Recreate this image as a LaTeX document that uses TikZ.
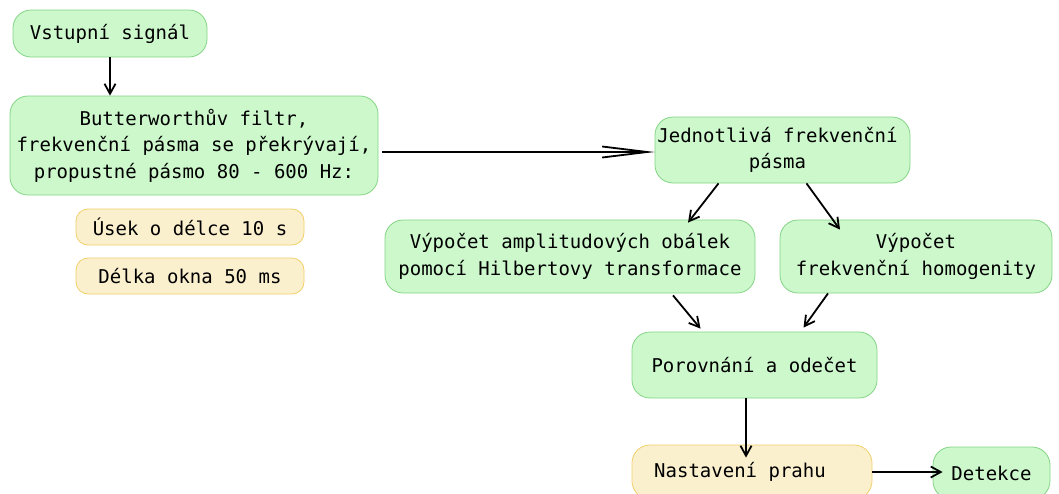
\documentclass[tikz,border=0pt]{standalone}
\usepackage{fontspec}
\setmonofont{DejaVu Sans Mono}
\usetikzlibrary{arrows.meta}
\definecolor{gfill}{HTML}{CCF8CC}
\definecolor{gline}{HTML}{84D484}
\definecolor{yfill}{HTML}{FBF0CE}
\definecolor{yline}{HTML}{F2D06A}
\begin{document}
\begin{tikzpicture}[x=1pt,y=-1pt,
  base/.style={rounded corners=18pt, line width=0.8pt, align=center, inner sep=0pt,
    font=\ttfamily\fontsize{19}{26.5}\selectfont},
  gbox/.style={base, draw=gline, fill=gfill},
  ybox/.style={base, draw=yline, fill=yfill},
  arr/.style={-{Straight Barb[length=10pt,width=11pt]}, line width=1.8pt},
  longarr/.style={-{Straight Barb[length=45pt,width=11pt]}, line width=1.8pt}]
\useasboundingbox (0,0) rectangle (1059,493);
\node[gbox, minimum width=194pt, minimum height=47pt] (in) at (110,33.5) {Vstupní signál};
\node[gbox, minimum width=368pt, minimum height=99pt] (bw) at (194,145.5) {Butterworthův filtr,\\frekvenční pásma se překrývají,\\propustné pásmo 80 - 600 Hz:};
\node[ybox, rounded corners=12pt, minimum width=228pt, minimum height=36pt] (usek) at (190,227) {Úsek o délce 10 s};
\node[ybox, rounded corners=12pt, minimum width=228pt, minimum height=36pt] (delka) at (190,276) {Délka okna 50 ms};
\node[gbox, minimum width=255pt, minimum height=66pt] (jedn) at (782.5,150) {\hspace*{-10pt}Jednotlivá frekvenční\\\hspace*{-10pt}pásma};
\node[gbox, minimum width=370pt, minimum height=73pt] (amp) at (570,256.5) {Výpočet amplitudových obálek\\pomocí Hilbertovy transformace};
\node[gbox, minimum width=272pt, minimum height=73pt] (hom) at (916,256.5) {Výpočet\\frekvenční homogenity};
\node[gbox, minimum width=245pt, minimum height=66pt] (por) at (754.5,365) {Porovnání a odečet};
\node[ybox, minimum width=240pt, minimum height=54pt] (nast) at (752,472) {\hspace*{-24pt}Nastavení prahu};
\node[gbox, minimum width=117pt, minimum height=52pt] (det) at (991.5,473) {Detekce};
\draw[arr] (in.south) -- (in.south |- bw.north);
\draw[longarr] ([shift={(4,6.5)}]bw.east) -- ([shift={(0,2)}]jedn.west);
\draw[arr] ([shift={(-64,0)}]jedn.south) -- ([shift={(118,3)}]amp.north);
\draw[arr] ([shift={(24,0)}]jedn.south) -- ([shift={(-76,10)}]hom.north);
\draw[arr] ([shift={(103,2)}]amp.south) -- ([shift={(-54,-3)}]por.north);
\draw[arr] ([shift={(-88,0)}]hom.south) -- ([shift={(49,-4)}]por.north);
\draw[arr] ([shift={(-8.5,0)}]por.south) -- ([shift={(-6,13)}]nast.north);
\draw[arr] (nast.east) -- ([shift={(10,-1)}]det.west);
\end{tikzpicture}
\end{document}
